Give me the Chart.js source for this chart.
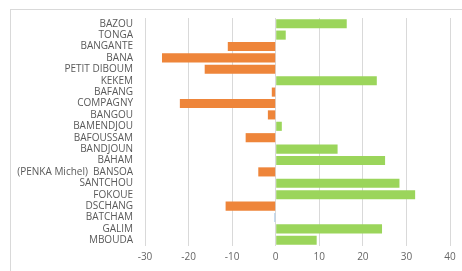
<!DOCTYPE html>
<html>
<head>
<meta charset="utf-8">
<script src="https://cdn.jsdelivr.net/npm/chart.js@4"></script>
<style>
  html, body { margin: 0; padding: 0; background: #fff; }
  #wrap { position: relative; width: 462px; height: 271px; overflow: hidden; }
  #frame { position: absolute; left: 10px; top: 9px; width: 470px; height: 280px; border: 1px solid #d9d9d9; box-sizing: border-box; }
  canvas { position: absolute; left: 0; top: 0; }
</style>
</head>
<body>
<div id="wrap">
  <div id="frame"></div>
  <canvas id="myChart" width="462" height="271"></canvas>
</div>
<script>
// villes et valeurs
const categories = ['BAZOU', 'TONGA', 'BANGANTE', 'BANA', 'PETIT DIBOUM', 'KEKEM', 'BAFANG',
  'COMPAGNY', 'BANGOU', 'BAMENDJOU', 'BAFOUSSAM', 'BANDJOUN', 'BAHAM',
  '(PENKA Michel)  BANSOA', 'SANTCHOU', 'FOKOUE', 'DSCHANG', 'BATCHAM', 'GALIM', 'MBOUDA'];
const values = [16.3, 2.3, -11, -26.1, -16.3, 23.2, -0.9, -22, -1.8, 1.4, -6.9,
  14.2, 25.1, -4, 28.4, 32, -11.5, -0.3, 24.4, 9.4];
const xTicks = [-30, -20, -10, 0, 10, 20, 30, 40];

const colors = categories.map((c, i) => {
    if (c === 'BATCHAM') return '#9DC3E6';
    return values[i] >= 0 ? '#9BD55B' : '#EE853A';
});

const ctx = document.getElementById('myChart').getContext('2d');

const myChart = new Chart(ctx, {
    type: 'bar',
    data: {
        labels: categories,
        datasets: [{
            data: values,
            backgroundColor: colors,
            borderWidth: 0,
            categoryPercentage: 1,
            barPercentage: 0.8
        }]
    },
    options: {
        indexAxis: 'y',
        responsive: false,
        animation: false,
        layout: { padding: { left: 10, top: 15, right: 12, bottom: 0 } },
        plugins: { legend: { display: false }, tooltip: { enabled: false } },
        scales: {
            x: {
                min: -30,
                max: 40,
                afterBuildTicks: (axis) => { axis.ticks = xTicks.map(v => ({ value: v })); },
                afterFit: (axis) => { axis.height = 25; },
                border: { display: false },
                grid: { color: '#d9d9d9', lineWidth: 1, drawTicks: false },
                ticks: {
                    color: '#666666',
                    padding: 5,
                    font: { family: 'Open Sans', size: 10 }
                }
            },
            y: {
                afterFit: (axis) => { axis.width = 135; },
                border: { display: false },
                grid: { display: false, drawTicks: false },
                ticks: {
                    color: '#595959',
                    padding: 12,
                    autoSkip: false,
                    font: { family: 'Open Sans', size: 10 }
                }
            }
        }
    }
});
</script>
</body>
</html>
